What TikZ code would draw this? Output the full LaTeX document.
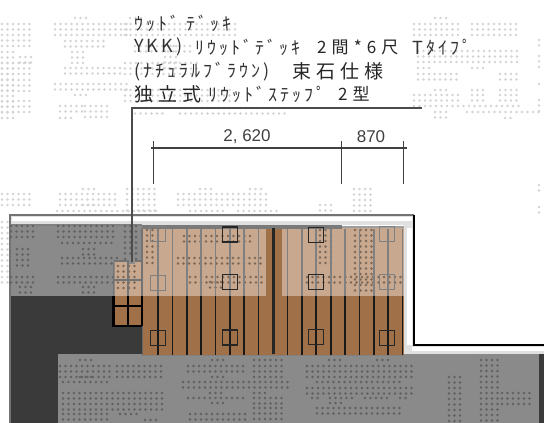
\documentclass[tikz,border=0pt]{standalone}
\usepackage{fontspec}
\usetikzlibrary{calc}
\setsansfont{Liberation Sans}
\newfontfamily\cjkwide[LetterSpace=17]{Noto Sans CJK JP}
\newfontfamily\cjkkanji[LetterSpace=30]{Noto Sans CJK JP}
\newfontfamily\cjkbig[LetterSpace=26]{Noto Sans CJK JP}
\newcommand{\dotblock}[4]{%
  \foreach \ci in {1,...,#3}{\foreach \ri in {1,...,#4}{%
    \fill[dotmark] ({#1+5.5*(\ci-1)},{#2+5.5*(\ri-1)}) circle (1.45);}}}
\definecolor{deckbrown}{HTML}{A07048}
\definecolor{decklight}{HTML}{C8A88E}
\definecolor{floordark}{HTML}{3A3A3A}
\definecolor{floorgray}{HTML}{8A8A8A}
\tikzset{
  dotmark/.style={fill=black},
  kanatext/.style={anchor=west,inner sep=0pt,text=black!80,font=\cjkwide\fontsize{18}{18}\selectfont},
  kanjitext/.style={anchor=west,inner sep=0pt,text=black!85,font=\cjkkanji\fontsize{17}{17}\selectfont},
  kanjibig/.style={anchor=west,inner sep=0pt,text=black!85,font=\cjkbig\fontsize{19}{19}\selectfont},
  dimtext/.style={inner sep=0pt,text=black!75,font=\sffamily\fontsize{17}{17}\selectfont},
  dimline/.style={line width=1.3pt,draw=black!75},
  stonebox/.style={line width=1.6pt,draw=black!85},
  stonepale/.style={line width=1.3pt,draw=black!50},
}
\begin{document}
\begin{tikzpicture}[x=1pt,y=-1pt]
  \useasboundingbox (0,0) rectangle (544,423);
  % ground and floor areas
  \fill[white] (0,0) rectangle (544,423);
  \fill[floordark] (10,225) rectangle (142,423);
  \fill[floordark] (142,296) rectangle (404,356);
  \fill[floordark] (539,354) rectangle (544,423);
  \fill[floorgray] (10,225) rectangle (142,296);
  \fill[floorgray] (58,354) rectangle (539,423);
  % dots on white
  \tikzset{dotmark/.style={fill=black!17}}
  \dotblock{2}{24}{6}{5}  \dotblock{2}{52}{3}{13} \dotblock{2}{63}{6}{3}
  \dotblock{2}{80}{6}{3}  \dotblock{2}{101}{6}{3} \dotblock{20}{57}{3}{2}
  \dotblock{75}{18}{3}{1} \dotblock{55}{24}{14}{3} \dotblock{65}{41}{8}{2}
  \dotblock{72}{52}{3}{3} \dotblock{65}{68}{11}{2} \dotblock{55}{84}{14}{2}
  \dotblock{75}{95}{3}{1} \dotblock{60}{106}{5}{2} \dotblock{85}{106}{5}{3}
  \dotblock{60}{118}{3}{1}
  \dotblock{130}{18}{3}{1} \dotblock{125}{24}{21}{3} \dotblock{135}{46}{11}{2}
  \dotblock{125}{63}{14}{3} \dotblock{165}{46}{3}{5} \dotblock{125}{90}{20}{3}
  \dotblock{180}{108}{20}{2} \dotblock{135}{108}{6}{2}
  \dotblock{435}{18}{3}{1} \dotblock{414}{24}{9}{3} \dotblock{472}{24}{9}{3}
  \dotblock{418}{51}{19}{3} \dotblock{418}{68}{3}{1} \dotblock{418}{74}{8}{2}
  \dotblock{472}{68}{3}{1} \dotblock{500}{74}{4}{2} \dotblock{435}{90}{3}{1}
  \dotblock{472}{90}{3}{1} \dotblock{500}{90}{4}{1} \dotblock{414}{95}{9}{2}
  \dotblock{472}{95}{3}{2} \dotblock{500}{95}{4}{2} \dotblock{414}{106}{20}{1}
  \dotblock{435}{112}{3}{2} \dotblock{467}{112}{14}{1} \dotblock{505}{118}{2}{1}
  \dotblock{539}{40}{1}{2} \dotblock{539}{56}{1}{3} \dotblock{539}{84}{1}{1}
  \dotblock{539}{100}{1}{3}
  \dotblock{2}{194}{6}{3} \dotblock{2}{222}{2}{12} \dotblock{60}{194}{11}{3}
  \dotblock{83}{189}{3}{1} \dotblock{83}{205}{3}{1} \dotblock{127}{189}{6}{1}
  \dotblock{127}{194}{6}{4} \dotblock{57}{211}{19}{1} \dotblock{178}{194}{17}{3}
  \dotblock{200}{189}{3}{1} \dotblock{250}{189}{3}{1} \dotblock{190}{211}{7}{1}
  \dotblock{238}{211}{8}{1} \dotblock{320}{205}{3}{3} \dotblock{354}{189}{4}{5}
  \dotblock{539}{185}{1}{2} \dotblock{539}{207}{1}{2}
  % house outline and white bands
  \fill[black!12] (10,215) rectangle (414,225);
  \fill[black!12] (404,225) rectangle (414,354);
  \fill[black!12] (404,345) rectangle (544,354);
  \fill[white] (12,217) rectangle (412,221);
  \fill[white] (407,228) rectangle (412,345);
  \fill[white] (412,347) rectangle (544,351);
  \draw[line width=1.4pt,draw=black!55] (10,423) -- (10,215) -- (414,215);
  \draw[line width=1.2pt,draw=black] (414,215) -- (414,345) -- (544,345);
  \draw[line width=2pt,draw=black!50] (10,225) -- (142,225);
  % dots on gray
  \tikzset{dotmark/.style={fill=black!62}}
  \dotblock{11}{226}{5}{3} \dotblock{58}{226}{11}{3} \dotblock{62}{243}{10}{1}
  \dotblock{83}{249}{3}{2} \dotblock{62}{258}{11}{2} \dotblock{11}{277}{5}{2}
  \dotblock{58}{277}{11}{2} \dotblock{83}{287}{3}{2} \dotblock{20}{287}{3}{2}
  \dotblock{17}{249}{3}{4} \dotblock{125}{226}{3}{7}
  \dotblock{80}{360}{3}{1} \dotblock{60}{366}{10}{3} \dotblock{117}{366}{9}{3}
  \dotblock{80}{377}{3}{1} \dotblock{63}{382}{9}{1} \dotblock{63}{393}{19}{4}
  \dotblock{63}{414}{9}{2} \dotblock{120}{414}{4}{1} \dotblock{145}{420}{3}{1}
  \dotblock{188}{366}{11}{2} \dotblock{212}{360}{3}{1} \dotblock{212}{377}{3}{1}
  \dotblock{183}{382}{20}{2} \dotblock{210}{393}{3}{1} \dotblock{188}{398}{11}{1}
  \dotblock{212}{403}{3}{1} \dotblock{190}{414}{11}{2}
  \dotblock{254}{360}{6}{1} \dotblock{254}{366}{6}{3} \dotblock{254}{393}{3}{1}
  \dotblock{254}{398}{6}{2} \dotblock{254}{408}{6}{3}
  \dotblock{329}{360}{3}{1} \dotblock{377}{360}{3}{1} \dotblock{307}{366}{20}{3}
  \dotblock{317}{382}{16}{1} \dotblock{307}{388}{20}{2} \dotblock{312}{398}{2}{1}
  \dotblock{330}{398}{5}{1} \dotblock{365}{398}{5}{1} \dotblock{400}{398}{2}{1}
  \dotblock{330}{403}{3}{1} \dotblock{317}{408}{16}{2}
  \dotblock{449}{377}{3}{9} \dotblock{481}{360}{4}{12} \dotblock{502}{393}{6}{3}
  % deck
  \fill[deckbrown] (142,228) rectangle (404,355);
  \fill[decklight] (142,228) rectangle (266,296);
  \fill[decklight] (282,228) rectangle (404,296);
  \tikzset{dotmark/.style={fill=black!38!decklight}}
  \dotblock{147}{230}{3}{4} \dotblock{147}{252}{2}{3} \dotblock{184}{236}{13}{2}
  \dotblock{178}{258}{16}{2} \dotblock{190}{277}{14}{2} \dotblock{210}{282}{3}{2}
  \dotblock{320}{230}{3}{7} \dotblock{355}{230}{4}{12} \dotblock{307}{277}{18}{2}
  \fill[black!52] (142,225) rectangle (342,229);
  \fill[black!38] (342,226) rectangle (404,228);
  \foreach \px in {158,172.7,187,201,215.7,230,244,258.7,287.7,302,316,331,345,359.6,374,388,402.6}{
    \draw[line width=1.4pt,draw=black!50] (\px,229) -- (\px,296);
    \draw[line width=1.4pt,draw=black!90] (\px,296) -- (\px,355);
  }
  \draw[line width=2.4pt,draw=black!85] (273.5,228) -- (273.5,354);
  \draw[line width=1pt,draw=black!50] (142,355) -- (404,355);
  % stones under the deck
  \foreach \sx/\sy in {158/234,158/283,387/234,387/282}{
    \draw[stonepale] (\sx-7.5,\sy-7.5) rectangle (\sx+7.5,\sy+7.5);
  }
  \foreach \sx/\sy in {230/234.5,230/282,316/235,316/282,158/338,230/337.5,316/337,387/338}{
    \draw[stonebox] (\sx-7.5,\sy-7.5) rectangle (\sx+7.5,\sy+7.5);
  }
  % step
  \fill[decklight] (115,262) rectangle (141,296);
  \fill[deckbrown] (115,296) rectangle (141,325);
  \dotblock{118}{266}{4}{5}
  \draw[line width=1.2pt,draw=black!55] (113.5,262) -- (113.5,296) (128,262) -- (128,296)
    (142,229) -- (142,296) (113.5,261) -- (142,261) (113.5,280) -- (142,280);
  \draw[line width=2.4pt,draw=black] (113.5,296) -- (113.5,326) -- (142,326) -- (142,296);
  \draw[line width=1.6pt,draw=black] (128,296) -- (128,326) (113.5,306) -- (142,306);
  \draw[line width=1pt,draw=black!60] (142,326) -- (142,355);
  % leader and text
  \fill[black!45] (129,258) rectangle (135,264);
  \coordinate (leadEnd) at (132,262);
  \coordinate (leadTurn) at (132,108);
  \coordinate (leadTail) at (422,108);
  \draw[line width=1.2pt,draw=black!70] (leadEnd) -- (leadTurn) -- (leadTail);
  \node[kanatext] (lineA) at (134,23) {ｳｯﾄﾞ ﾃﾞｯｷ};
  \node[kanatext] (lineB) at (134,47) {YKK)};
  \node[kanatext] (lineBa) at (195,47) {ﾘｳｯﾄﾞﾃﾞｯｷ};
  \node[kanjitext] (lineBb) at (317,47) {2間*6尺};
  \node[kanatext] (lineBc) at (412,47) {Tﾀｲﾌﾟ};
  \node[kanatext] (lineC) at (134,72) {(ﾅﾁｭﾗﾙﾌﾞﾗｳﾝ)};
  \node[kanjibig] (lineCa) at (292,71) {束石仕様};
  \node[kanjibig] (lineD) at (134,94) {独立式};
  \node[kanatext] (lineDa) at (208,94) {ﾘｳｯﾄﾞｽﾃｯﾌﾟ};
  \node[kanjitext] (lineDb) at (338,94) {2型};
  % dimensions
  \coordinate (dimA) at (153.5,148);
  \coordinate (dimB) at (341.5,148);
  \coordinate (dimC) at (403.5,148);
  \coordinate (dimAend) at (153.5,184);
  \coordinate (dimBend) at (341.5,184);
  \coordinate (dimCend) at (403.5,184);
  \draw[dimline] ($(dimA)+(-3,0)$) -- ($(dimC)+(3,0)$);
  \draw[dimline] ($(dimA)+(0,-7)$) -- (dimAend);
  \draw[dimline] ($(dimB)+(0,-7)$) -- (dimBend);
  \draw[dimline] ($(dimC)+(0,-7)$) -- (dimCend);
  \node[dimtext] (dimAB) at (247,137) {2, 620};
  \node[dimtext] (dimBC) at (371,137) {870};
\end{tikzpicture}
\end{document}
